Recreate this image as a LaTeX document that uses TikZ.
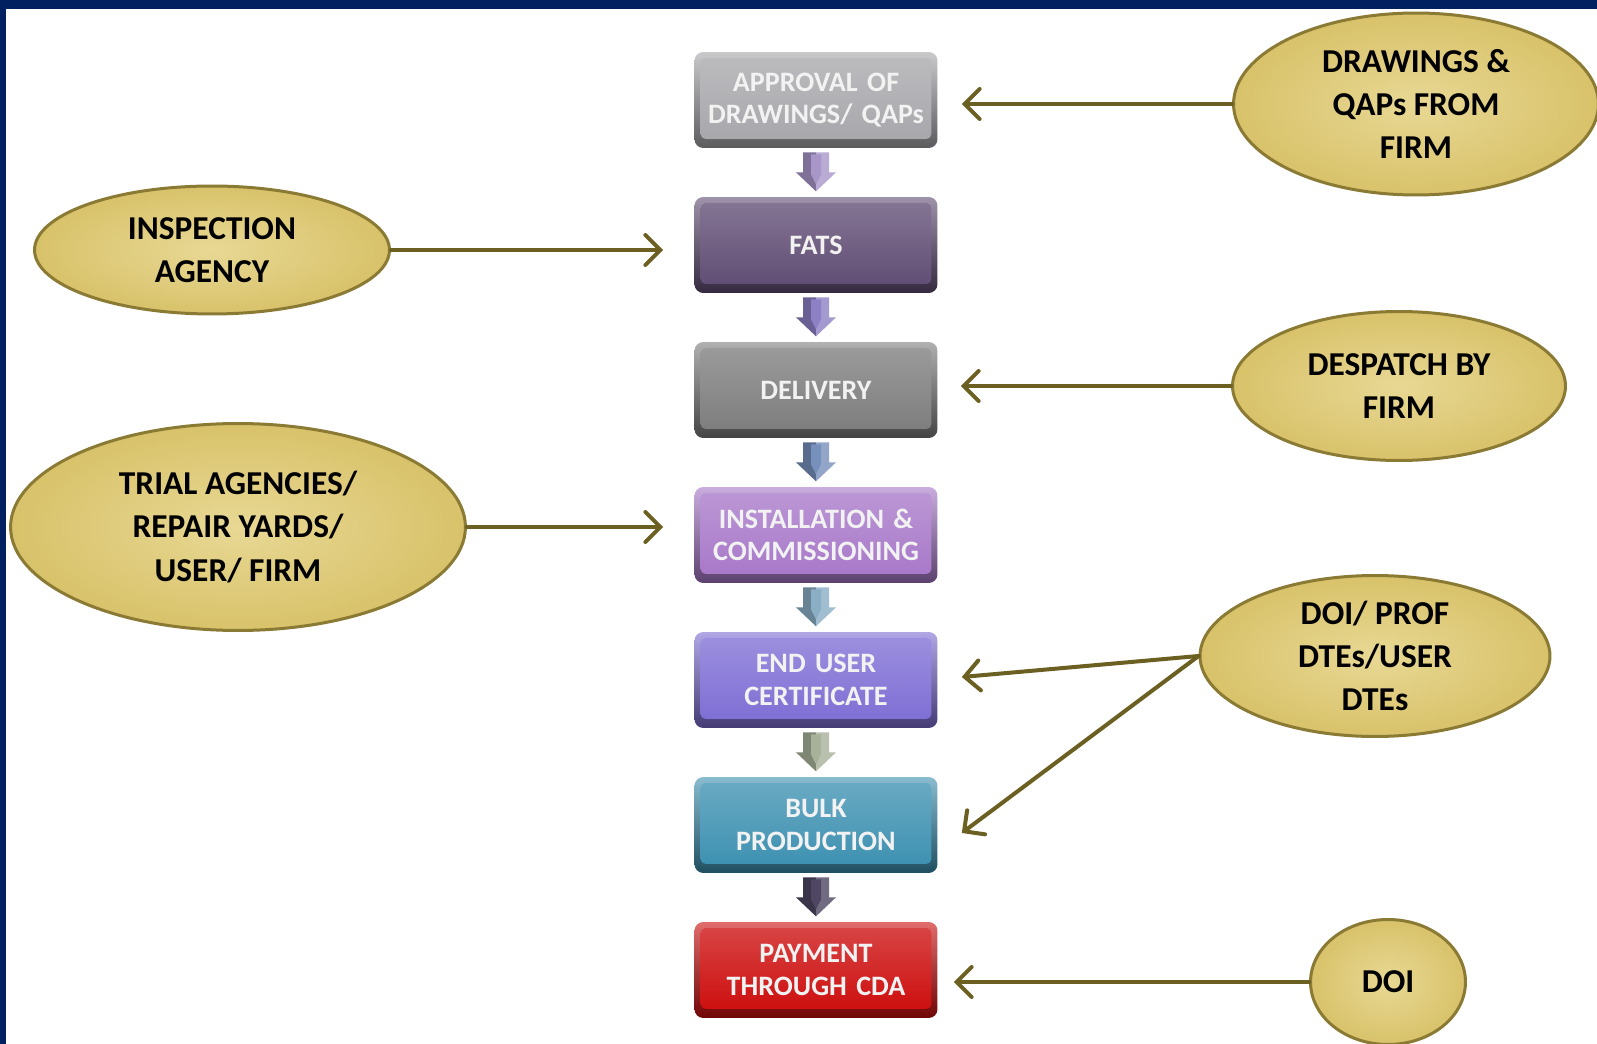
\documentclass[tikz,border=0pt]{standalone}
\usepackage{fontspec}
\usepackage{tikz}
\usetikzlibrary{calc,shapes.geometric,arrows.meta}
\newfontfamily\calib{Carlito}
\def\boxfont{\calib\bfseries\fontsize{16}{18.5}\selectfont}
\def\ellfont{\calib\bfseries\fontsize{19}{24.6}\selectfont}
\definecolor{navy}{HTML}{002060}
\definecolor{goldmain}{HTML}{D8C26A}
\definecolor{goldlight}{HTML}{E8D894}
\definecolor{goldrim}{HTML}{8A7A34}
\definecolor{feed}{HTML}{6B5F22}
\definecolor{approval}{HTML}{A6A6AA}
\definecolor{fats}{HTML}{5E4A72}
\definecolor{delivery}{HTML}{7B7B7B}
\definecolor{install}{HTML}{A676C8}
\definecolor{enduser}{HTML}{7C6CD4}
\definecolor{bulk}{HTML}{3A8FB0}
\definecolor{payment}{HTML}{CC0A0A}
\definecolor{arA}{HTML}{A896C8}
\definecolor{arB}{HTML}{8E80C4}
\definecolor{arC}{HTML}{7890BC}
\definecolor{arD}{HTML}{8AAEC4}
\definecolor{arE}{HTML}{A8B29A}
\definecolor{arF}{HTML}{4E4662}
\tikzset{
	stage/.style={rounded corners=5pt, minimum width=4.86cm, minimum height=1.92cm,
		text width=4.6cm, align=center, inner sep=0pt, text=white!95!black, font=\boxfont,
		top color=#1!60!white, bottom color=#1!55!black,
		path picture={\shade[top color=#1!75!white, bottom color=#1, rounded corners=3pt]
			([shift={(0.12cm,-0.12cm)}]path picture bounding box.north west) rectangle
			([shift={(-0.12cm,0.18cm)}]path picture bounding box.south east);}},
	source/.style={ellipse, draw=goldrim, line width=0.06cm, inner color=goldlight,
		outer color=goldmain, align=center, inner sep=0pt, font=\ellfont},
	feedline/.style={draw=feed, line width=0.08cm, line cap=round,
		-{Straight Barb[length=0.3cm, width=0.6cm, line cap=round]}},
}

\begin{document}
\begin{tikzpicture}[x=0.02cm, y=0.02cm]
			%%%%% START %%%%%
			\useasboundingbox (0,0) rectangle (1597,-1044);
			\fill[white] (0,0) rectangle (1597,-1044);
			\fill[navy] (0,0) rectangle (1597,-9);
			\fill[navy] (0,0) rectangle (6,-1044);
			
			% main chain
			\node[stage=approval] (b1) at (816,-100) {APPROVAL OF\\DRAWINGS/ QAPs};
			\node[stage=fats] (b2) at (816,-245) {FATS};
			\node[stage=delivery] (b3) at (816,-390) {DELIVERY};
			\node[stage=install] (b4) at (816,-535) {INSTALLATION \&\\COMMISSIONING};
			\node[stage=enduser] (b5) at (816,-680) {END USER\\CERTIFICATE};
			\node[stage=bulk] (b6) at (816,-825) {BULK\\PRODUCTION};
			\node[stage=payment] (b7) at (816,-970) {PAYMENT\\THROUGH CDA};
			
			% block arrows
			\foreach \i/\c in {1/arA, 2/arB, 3/arC, 4/arD, 5/arE, 6/arF}{
				\begin{scope}[shift={(b\i.south)}]
					\fill[\c!75!black] (-13,-4) -- (0,-4) -- (0,-43) -- (-20,-24) -- (-13,-24) -- cycle;
					\fill[\c!80!white] (13,-4) -- (0,-4) -- (0,-43) -- (20,-24) -- (13,-24) -- cycle;
					\fill[\c] (-5,-6) -- (5,-6) -- (5,-26) -- (0,-36) -- (-5,-26) -- cycle;
				\end{scope}
			}
			
			% sources
			\node[source, minimum width=7.3cm, minimum height=3.64cm] (e1) at (1416,-104) {DRAWINGS \&\\QAPs FROM\\FIRM};
			\node[source, minimum width=7.1cm, minimum height=2.56cm] (e2) at (212,-250) {INSPECTION\\AGENCY};
			\node[source, minimum width=6.66cm, minimum height=2.98cm] (e3) at (1399,-386) {DESPATCH BY\\FIRM};
			\node[source, minimum width=9.1cm, minimum height=4.14cm] (e4) at (238,-527) {TRIAL AGENCIES/\\REPAIR YARDS/\\USER/ FIRM};
			\node[source, minimum width=7cm, minimum height=3.22cm] (e5) at (1375,-656) {DOI/ PROF\\DTEs/USER\\DTEs};
			\node[source, minimum width=3.1cm, minimum height=2.5cm] (e6) at (1388,-982) {DOI};
			
			% feeds
			\draw[feedline, shorten >=0.48cm] (e1.west) -- (e1.west -| b1.east);
			\draw[feedline, shorten >=0.62cm] (e2.east) -- (e2.east -| b2.west);
			\draw[feedline, shorten >=0.46cm] (e3.west) -- (e3.west -| b3.east);
			\draw[feedline, shorten >=0.62cm] (e4.east) -- (e4.east -| b4.west);
			\draw[feedline] (e5.west) -- ([xshift=0.48cm, yshift=0.06cm]b5.east);
			\draw[feedline] (e5.west) -- ([xshift=0.48cm, yshift=-0.16cm]b6.east);
			\draw[feedline, shorten >=0.32cm] (e6.west) -- (e6.west -| b7.east);
			%%%%% END %%%%%
\end{tikzpicture}
\end{document}
